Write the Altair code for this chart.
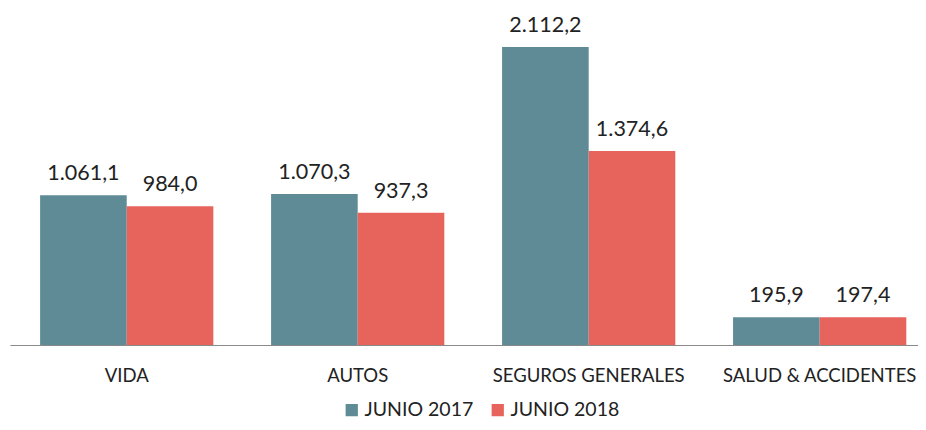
import altair as alt
import pandas as pd

categories = ["VIDA", "AUTOS", "SEGUROS GENERALES", "SALUD & ACCIDENTES"]
series = ["JUNIO 2017", "JUNIO 2018"]
values_2017 = [1061.1, 1070.3, 2112.2, 195.9]
values_2018 = [984.0, 937.3, 1374.6, 197.4]
colors = ["#5f8b97", "#e6645c"]


def fmt_es(v):
    s = f"{v:,.1f}"
    return s.replace(",", "X").replace(".", ",").replace("X", ".")


rows = []
for c, a, b in zip(categories, values_2017, values_2018):
    rows.append({"cat": c, "serie": series[0], "val": a, "lab": fmt_es(a)})
    rows.append({"cat": c, "serie": series[1], "val": b, "lab": fmt_es(b)})
df = pd.DataFrame(rows)

FONT = "Lato"

x = alt.X("cat:N", sort=categories, title=None,
          scale=alt.Scale(paddingInner=0.25, paddingOuter=0.0905, align=0.72),
          axis=alt.Axis(labelAngle=0, ticks=False, labelPadding=21, labelFontSize=18.5,
                        labelFont=FONT, labelColor="#222222", domainColor="#8a8a8a",
                        domainWidth=1.2, labelLimit=300))
xo = alt.XOffset("serie:N", sort=series, scale=alt.Scale(paddingInner=0))
y = alt.Y("val:Q", scale=alt.Scale(domain=[0, 2388], nice=False), axis=None)

bars = alt.Chart(df).mark_bar().encode(
    x=x, xOffset=xo, y=y,
    color=alt.Color("serie:N", sort=series,
                    scale=alt.Scale(domain=series, range=colors),
                    legend=alt.Legend(title=None, orient="none", direction="horizontal",
                                      legendX=332, legendY=392, symbolType="square",
                                      symbolSize=150, symbolStrokeWidth=0,
                                      labelFontSize=19.5, labelFont=FONT,
                                      labelColor="#222222", columnPadding=14,
                                      labelOffset=3))
)

text = alt.Chart(df).mark_text(baseline="bottom", dy=-10, fontSize=21.5, font=FONT,
                               color="#222222").encode(
    x=alt.X("cat:N", sort=categories), xOffset=xo, y="val:Q", text="lab:N")

chart = alt.layer(bars, text).properties(
    width=908, height=337,
    autosize=alt.AutoSizeParams(type="none"),
    padding={"left": 2, "top": 0, "right": 0, "bottom": 77},
    background="white",
).configure_view(strokeWidth=0, stroke=None)

chart.save("out.html", embed_options={"renderer": "svg", "actions": False})
